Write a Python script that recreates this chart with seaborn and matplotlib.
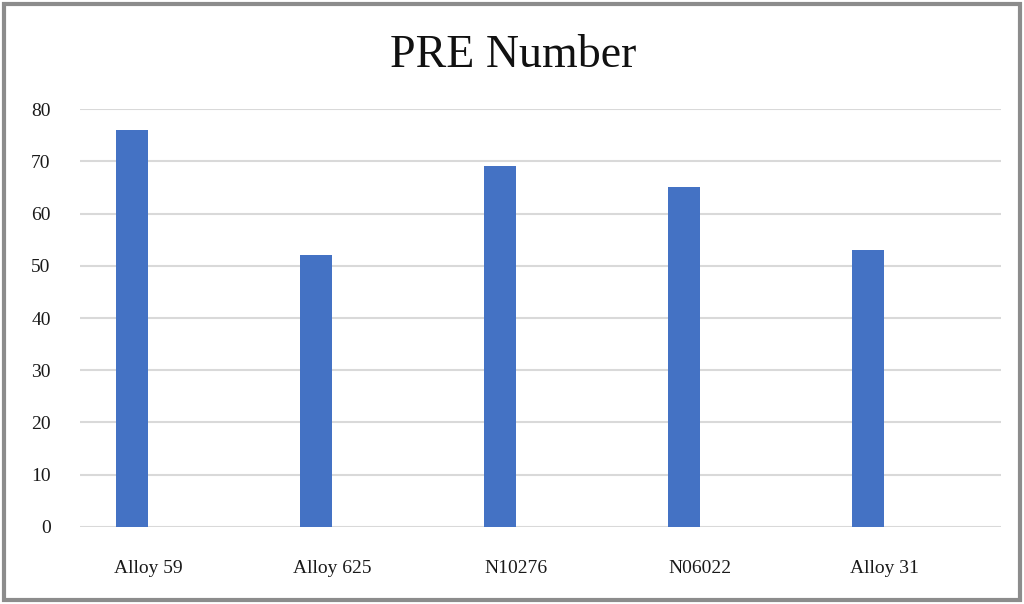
import pandas as pd
import matplotlib.pyplot as plt
import seaborn as sns
from matplotlib.patches import Rectangle

# Chart data
alloys = ["Alloy 59", "Alloy 625", "N10276", "N06022", "Alloy 31"]
pre_number = [76, 52, 69, 65, 53]
# second (empty) series of the original clustered chart
empty_series = [0, 0, 0, 0, 0]

df = pd.DataFrame({
    "Alloy": alloys * 2,
    "Value": pre_number + empty_series,
    "Series": ["PRE"] * len(alloys) + ["blank"] * len(alloys),
})

sns.set_theme(style="white")
plt.rcParams['font.family'] = ['Liberation Serif', 'DejaVu Serif']

fig = plt.figure(figsize=(10.24, 6.04), dpi=100)
ax = fig.add_axes([0.078, 0.1275, 0.8995, 0.692])

sns.barplot(data=df, x="Alloy", y="Value", hue="Series", hue_order=["PRE", "blank"],
            palette=["#4472C4", "#4472C4"], saturation=1, width=0.348, dodge=True,
            linewidth=0, legend=False, ax=ax)

ax.set_ylim(0, 80)
ax.set_xlim(-0.37, 4.636)
ax.set_yticks(range(0, 81, 10))
ax.yaxis.grid(True, color="#D9D9D9", linewidth=1.5)
ax.set_axisbelow(True)
for s in ax.spines.values():
    s.set_visible(False)
ax.set_xlabel("")
ax.set_ylabel("")
ax.tick_params(axis="x", length=0, pad=24, labelsize=14, labelcolor="#1a1a1a")
ax.tick_params(axis="y", length=0, pad=21, labelsize=14, labelcolor="#1a1a1a")

fig.text(0.501, 0.907, "PRE Number", ha="center", va="center", fontsize=33, color="#111111")

# outer frame
fig.patches.append(Rectangle((0.004, 0.006), 0.992, 0.988, transform=fig.transFigure,
                             fill=False, edgecolor="#8C8C8C", linewidth=3))

fig.savefig("out.png", dpi=100, facecolor="white")
